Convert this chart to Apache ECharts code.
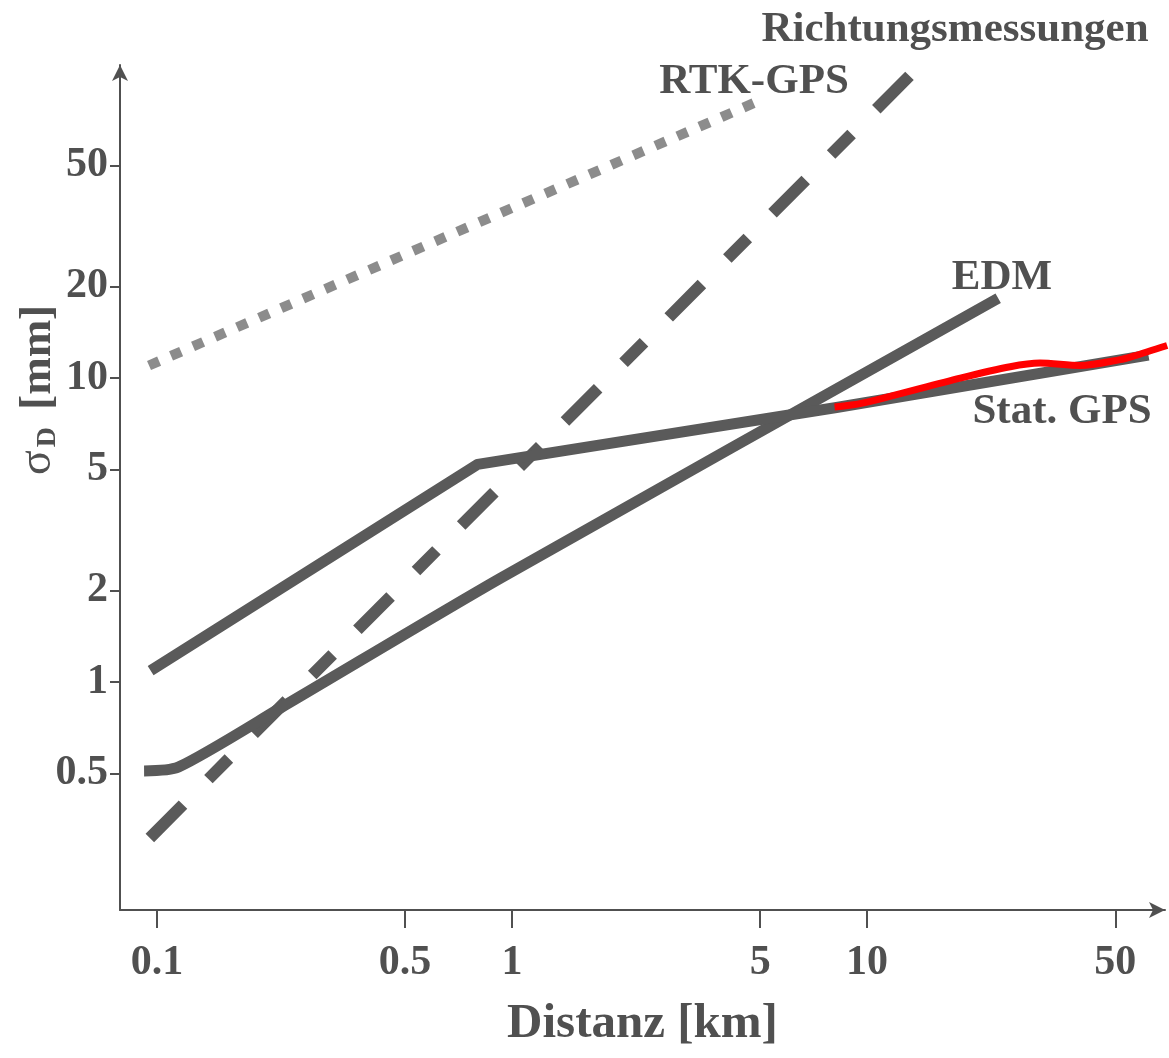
<!DOCTYPE html>
<html>
<head>
<meta charset="utf-8">
<script src="https://cdn.jsdelivr.net/npm/echarts@6/dist/echarts.min.js"></script>
<style>
  html, body { margin: 0; padding: 0; background: #fff; }
  #chart { width: 1169px; height: 1058px; }
</style>
</head>
<body>
<div id="chart"></div>
<script>
// tick labels
const xTicks = [0.1, 0.5, 1, 5, 10, 50]
const yTicks = [0.5, 1, 2, 5, 10, 20, 50]

// Distanz [km] / sigma_D [mm]
const rtkDist = [0.095, 5.0]
const rtkSigma = [11.0, 82]

const richtDist = [0.0955, 13.2]
const richtSigma = [0.307, 99]

const edmDist = [0.092, 0.115, 0.23, 0.93, 23.4]
const edmSigma = [0.51, 0.525, 0.84, 2.2, 18.3]

const statDist = [0.096, 0.8, 8.2, 62]
const statSigma = [1.09, 5.2, 8.0, 11.9]

// red overlay on Stat. GPS
const redDist = [8.1, 9.7, 18.3, 25.3, 30.7, 39.8, 51.6, 56.1, 70]
const redSigma = [8.03, 8.27, 10.0, 10.9, 11.2, 11.0, 11.5, 11.8, 12.8]

const FONT = '"Liberation Serif", "DejaVu Serif", serif'
const INK = '#505050'
const LINE = '#5a5a5a'

// the axes are value axes in log10 space
const lg = v => Math.log10(v)
const pairs = (xs, ys) => xs.map((x, i) => [lg(x), lg(ys[i])])
const fmt = v => String(parseFloat(Math.pow(10, v).toPrecision(6)))

const chart = echarts.init(document.getElementById('chart'))

const label = (text, x, y) => ({
  type: 'text', x: x, y: y,
  style: { text: text, textAlign: 'center', textVerticalAlign: 'middle', fill: INK, font: 'bold 43px ' + FONT }
})

const option = {
  backgroundColor: '#fff',
  animation: false,
  grid: { left: 120, right: 4, top: 65, bottom: 148 },
  xAxis: {
    type: 'value',
    min: -1.104,
    max: 1.839,
    splitLine: { show: false },
    axisLine: {
      show: true,
      onZero: false,
      lineStyle: { color: INK, width: 2 },
      symbol: ['none', 'arrow'],
      symbolSize: [12, 16]
    },
    axisTick: {
      show: true,
      length: 18,
      lineStyle: { color: INK, width: 2 },
      customValues: xTicks.map(lg)
    },
    axisLabel: {
      customValues: xTicks.map(lg),
      formatter: fmt,
      margin: 32,
      color: INK,
      fontFamily: FONT,
      fontWeight: 'bold',
      fontSize: 42
    },
    name: 'Distanz [km]',
    nameLocation: 'middle',
    nameGap: 90,
    nameTextStyle: { color: INK, fontFamily: FONT, fontWeight: 'bold', fontSize: 49 }
  },
  yAxis: {
    type: 'value',
    min: -0.75,
    max: 2.03,
    splitLine: { show: false },
    axisLine: {
      show: true,
      onZero: false,
      lineStyle: { color: INK, width: 2 },
      symbol: ['none', 'arrow'],
      symbolSize: [12, 16]
    },
    axisTick: {
      show: true,
      length: 10,
      lineStyle: { color: INK, width: 2 },
      customValues: yTicks.map(lg)
    },
    axisLabel: {
      customValues: yTicks.map(lg),
      formatter: fmt,
      margin: 12,
      color: INK,
      fontFamily: FONT,
      fontWeight: 'bold',
      fontSize: 42
    }
  },
  graphic: [
    {
      type: 'text', x: 38, y: 390, rotation: Math.PI / 2,
      style: {
        text: '{s|σ}{d|D} [mm]',
        textAlign: 'center', textVerticalAlign: 'middle',
        fill: INK, font: 'bold 45px ' + FONT,
        rich: {
          s: { fontFamily: FONT, fontSize: 46, fill: INK },
          d: { fontFamily: FONT, fontSize: 28, fontWeight: 'bold', fill: INK, padding: [20, 6, 0, 3] }
        }
      }
    },
    label('Richtungsmessungen', 955, 30),
    label('RTK-GPS', 754, 82),
    label('EDM', 1002, 278),
    label('Stat. GPS', 1062, 412)
  ],
  series: [
    {
      name: 'RTK-GPS',
      type: 'line',
      data: pairs(rtkDist, rtkSigma),
      showSymbol: false,
      lineStyle: { color: '#8c8c8c', width: 10, type: [11, 13] }
    },
    {
      name: 'Richtungsmessungen',
      type: 'line',
      data: pairs(richtDist, richtSigma),
      showSymbol: false,
      lineStyle: { color: LINE, width: 12, type: [47, 36, 29, 35] }
    },
    {
      name: 'EDM',
      type: 'line',
      data: pairs(edmDist, edmSigma),
      showSymbol: false,
      smooth: 0.25,
      lineStyle: { color: LINE, width: 11, join: 'round' }
    },
    {
      name: 'Stat. GPS',
      type: 'line',
      data: pairs(statDist, statSigma),
      showSymbol: false,
      lineStyle: { color: LINE, width: 11, join: 'round' }
    },
    {
      name: 'Stat. GPS (rot)',
      type: 'line',
      data: pairs(redDist, redSigma),
      showSymbol: false,
      smooth: 0.3,
      lineStyle: { color: '#ff0000', width: 7 }
    }
  ]
}

chart.setOption(option)
window.addEventListener('resize', () => {
  chart.resize()
})
</script>
</body>
</html>
